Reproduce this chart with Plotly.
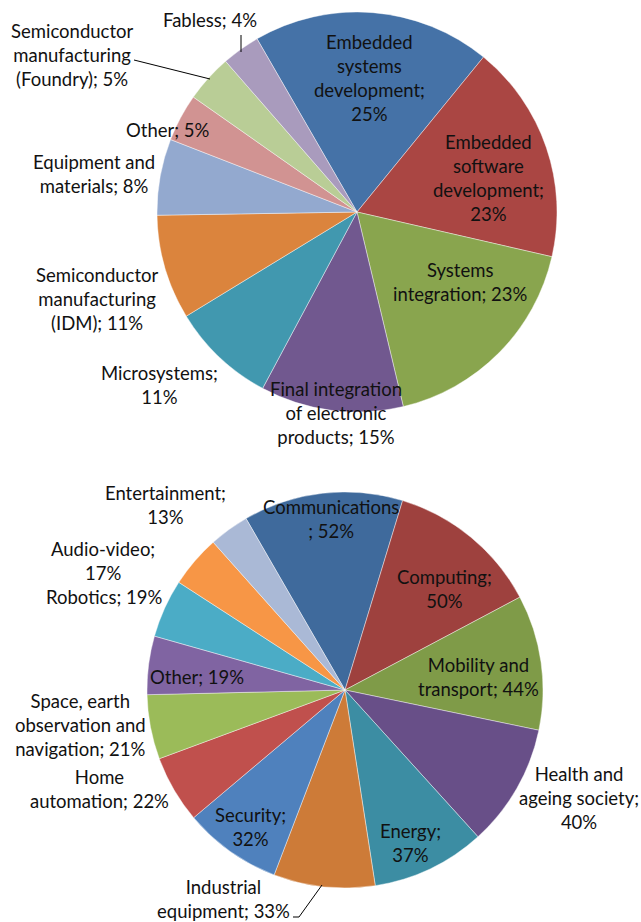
import plotly.graph_objects as go

W, H = 641, 922

# --- Expertise areas (upper pie) ---
skill_names = [
    "Embedded systems development", "Embedded software development",
    "Systems integration", "Final integration of electronic products",
    "Microsystems", "Semiconductor manufacturing (IDM)",
    "Equipment and materials", "Other",
    "Semiconductor manufacturing (Foundry)", "Fabless",
]
skill_values = [25, 23, 23, 15, 11, 11, 8, 5, 5, 4]
skill_colors = ["#4572A7", "#AA4643", "#89A54E", "#71588F", "#4198AF",
                "#DB843D", "#93A9CF", "#D19392", "#B9CD96", "#A99BBD"]
skill_label_fmt = [
    "Embedded<br>systems<br>development;<br>{v}%",
    "Embedded<br>software<br>development;<br>{v}%",
    "Systems<br>integration; {v}%",
    "Final integration<br>of electronic<br>products; {v}%",
    "Microsystems;<br>{v}%",
    "Semiconductor<br>manufacturing<br>(IDM); {v}%",
    "Equipment and<br>materials; {v}%",
    "Other; {v}%",
    "Semiconductor<br>manufacturing<br>(Foundry); {v}%",
    "Fabless; {v}%",
]

# --- Application domains (lower pie) ---
domain_names = [
    "Communications", "Computing", "Mobility and transport",
    "Health and ageing society", "Energy", "Industrial equipment",
    "Security", "Home automation",
    "Space, earth observation and navigation", "Other", "Robotics",
    "Audio-video", "Entertainment",
]
domain_values = [52, 50, 44, 40, 37, 33, 32, 22, 21, 19, 19, 17, 13]
domain_colors = ["#3F6A9C", "#9E413E", "#7F9B48", "#684F88", "#3C8DA3",
                 "#CD7B38", "#4F81BD", "#C0504D", "#9BBB59", "#8064A2",
                 "#4BACC6", "#F79646", "#AAB9D6"]
domain_label_fmt = [
    "Communications<br>; {v}%",
    "Computing;<br>{v}%",
    "Mobility and<br>transport; {v}%",
    "Health and<br>ageing society;<br>{v}%",
    "Energy;<br>{v}%",
    "Industrial<br>equipment; {v}%",
    "Security;<br>{v}%",
    "Home<br>automation; {v}%",
    "Space, earth<br>observation and<br>navigation; {v}%",
    "Other; {v}%",
    "Robotics; {v}%",
    "Audio-video;<br>{v}%",
    "Entertainment;<br>{v}%",
]

# label block centres, in pixels from the top-left of the page
skill_label_pos = [(370, 78), (488, 178), (460, 282), (336, 413), (159, 385),
                   (97, 299), (94, 174), (168, 130), (72, 55), (210, 20)]
domain_label_pos = [(331, 519), (444, 589), (478, 677), (579, 798),
                    (410, 843), (223, 899), (250, 827), (99, 789),
                    (80, 725), (197, 677), (104, 597), (103, 561), (165, 505)]

# leader lines (pixel polylines)
leaders = [
    [(241, 35), (241, 52)],
    [(134, 60), (210, 79)],
    [(293, 917), (299, 917), (322, 885)],
]


def px(x, y):
    return x / W, 1 - y / H


def dom(cx, cy, r):
    return dict(x=[(cx - r) / W, (cx + r) / W],
                y=[1 - (cy + r) / H, 1 - (cy - r) / H])


FONT = "Lato, 'Open Sans', sans-serif"
SLICE_EDGE = dict(color="rgba(255,255,255,0.6)", width=0.7)

fig = go.Figure()
fig.add_trace(go.Pie(
    labels=skill_names, values=skill_values, sort=False,
    direction="clockwise", rotation=-30, textinfo="none",
    marker=dict(colors=skill_colors, line=SLICE_EDGE),
    domain=dom(357, 212, 200), showlegend=False,
))
fig.add_trace(go.Pie(
    labels=domain_names, values=domain_values, sort=False,
    direction="clockwise", rotation=-30, textinfo="none",
    marker=dict(colors=domain_colors, line=SLICE_EDGE),
    domain=dom(345, 690, 198), showlegend=False,
))

annotations = []
for fmt, v, (x, y) in zip(skill_label_fmt + domain_label_fmt,
                          skill_values + domain_values,
                          skill_label_pos + domain_label_pos):
    ax, ay = px(x, y)
    annotations.append(dict(
        x=ax, y=ay, xref="paper", yref="paper", showarrow=False,
        text=fmt.format(v=v), xanchor="center", yanchor="middle",
        align="center", font=dict(family=FONT, size=18.5, color="#111111"),
    ))

shapes = []
for pts in leaders:
    for (x0, y0), (x1, y1) in zip(pts[:-1], pts[1:]):
        a0, b0 = px(x0, y0)
        a1, b1 = px(x1, y1)
        shapes.append(dict(type="line", xref="paper", yref="paper",
                           x0=a0, y0=b0, x1=a1, y1=b1,
                           line=dict(color="#000000", width=1)))

fig.update_layout(
    width=W, height=H, margin=dict(l=0, r=0, t=0, b=0),
    paper_bgcolor="white", plot_bgcolor="white",
    annotations=annotations, shapes=shapes,
)

fig.write_html("out.html")
